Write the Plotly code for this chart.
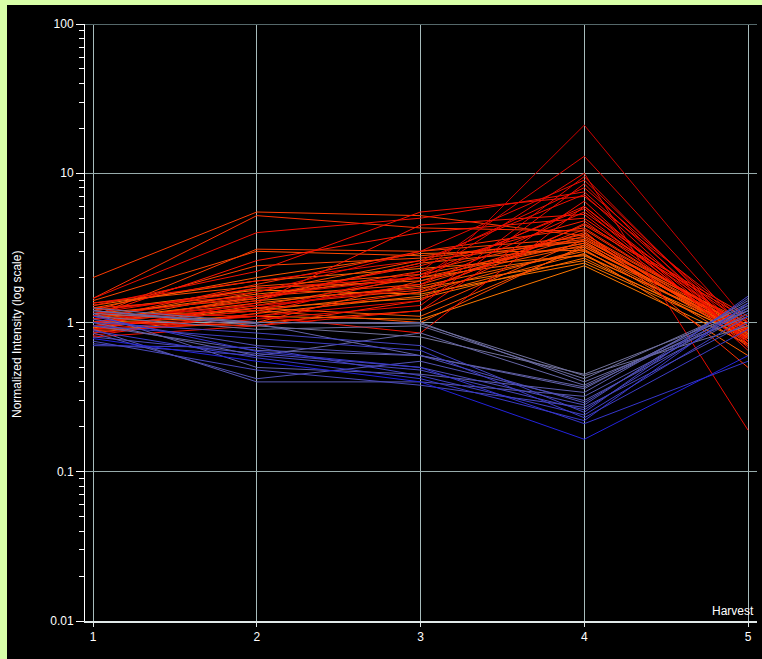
import plotly.graph_objects as go
import math

harvests = [1, 2, 3, 4, 5]
y_tick_vals = [0.01, 0.1, 1, 10, 100]
y_tick_text = ["0.01", "0.1", "1", "10", "100"]

# Up-regulated profiles (harvest 1..5)
up_series = [
    [1.05, 1.30, 1.70, 21.0, 1.00],
    [0.95, 1.20, 2.20, 13.0, 0.85],
    [1.10, 1.50, 2.00, 10.0, 0.19],
    [0.90, 1.10, 1.40, 9.5, 0.75],
    [1.20, 1.60, 3.00, 9.0, 0.80],
    [0.85, 1.05, 1.30, 8.5, 0.70],
    [1.00, 1.40, 2.50, 8.0, 0.90],
    [1.45, 4.00, 5.00, 7.5, 0.80],
    [1.30, 2.20, 5.50, 7.0, 1.00],
    [0.80, 0.95, 1.20, 6.5, 0.65],
    [1.15, 1.70, 2.00, 6.0, 0.85],
    [1.00, 1.25, 1.80, 5.5, 0.95],
    [0.90, 1.35, 4.50, 5.3, 0.75],
    [1.10, 2.60, 4.00, 5.0, 0.90],
    [1.25, 1.50, 2.40, 4.8, 0.78],
    [0.95, 1.10, 1.60, 4.5, 1.05],
    [1.05, 1.80, 3.00, 4.3, 0.88],
    [1.45, 5.20, 4.30, 4.1, 0.50],
    [0.88, 1.00, 1.90, 4.0, 0.72],
    [1.00, 1.45, 2.20, 3.9, 0.95],
    [1.15, 1.10, 0.85, 6.0, 0.75],
    [1.00, 0.95, 1.40, 4.6, 1.10],
    [1.05, 1.30, 1.65, 4.2, 0.88],
    [0.82, 1.15, 2.10, 5.8, 0.68],
    [1.35, 1.90, 2.60, 7.2, 0.72],
    [2.00, 5.50, 5.20, 3.8, 0.95],
    [1.10, 3.10, 3.00, 3.7, 0.85],
    [1.20, 2.40, 2.70, 3.6, 0.90],
    [1.00, 1.60, 2.60, 3.5, 0.80],
    [0.90, 1.30, 2.00, 3.4, 0.75],
    [1.05, 1.70, 1.90, 3.3, 0.88],
    [1.15, 1.45, 2.50, 3.2, 0.92],
    [0.95, 1.20, 1.60, 3.1, 0.70],
    [1.25, 2.00, 2.90, 3.05, 0.82],
    [1.00, 1.35, 1.75, 3.0, 0.95],
    [0.85, 1.15, 1.50, 2.9, 0.60],
    [1.10, 1.55, 2.00, 2.85, 0.86],
    [1.30, 1.90, 2.30, 2.8, 0.90],
    [0.92, 1.25, 1.45, 2.7, 0.78],
    [1.05, 1.40, 1.70, 2.6, 0.84],
    [1.20, 1.65, 1.55, 2.5, 0.80],
    [1.00, 1.10, 1.05, 2.4, 0.72],
    [0.90, 1.00, 1.20, 3.6, 0.95],
    [1.10, 1.20, 1.00, 3.3, 0.85],
    [1.35, 1.75, 2.10, 3.4, 1.00],
    [0.95, 1.50, 1.80, 3.8, 0.78],
    [1.40, 3.00, 2.80, 3.5, 0.82],
    [1.00, 1.25, 1.10, 3.2, 0.90],
]

# Down-regulated profiles (harvest 1..5)
down_series = [
    [1.20, 0.95, 0.80, 0.45, 1.20],
    [1.10, 0.90, 0.95, 0.42, 1.30],
    [1.25, 1.00, 1.00, 0.40, 1.10],
    [1.15, 1.00, 0.98, 0.44, 0.95],
    [1.00, 0.60, 0.85, 0.38, 1.25],
    [1.20, 0.98, 0.60, 0.37, 1.20],
    [0.95, 0.65, 0.60, 0.36, 1.35],
    [1.15, 0.50, 0.45, 0.34, 1.40],
    [0.90, 0.40, 0.40, 0.32, 1.20],
    [0.85, 0.42, 0.55, 0.30, 1.15],
    [1.05, 0.70, 0.60, 0.29, 1.30],
    [0.80, 0.62, 0.50, 0.28, 1.45],
    [0.75, 0.48, 0.38, 0.27, 1.00],
    [0.72, 0.60, 0.48, 0.26, 1.25],
    [1.00, 0.85, 0.70, 0.25, 1.50],
    [0.70, 0.68, 0.44, 0.24, 1.10],
    [0.95, 0.78, 0.65, 0.23, 0.90],
    [0.88, 0.58, 0.42, 0.22, 1.35],
    [1.10, 0.64, 0.50, 0.21, 0.55],
    [0.78, 0.55, 0.40, 0.165, 0.60],
]


def lerp(a, b, t):
    return tuple(int(round(a[i] + (b[i] - a[i]) * t)) for i in range(3))


def up_color(peak):
    t = (math.log10(peak) - math.log10(2.4)) / (math.log10(21) - math.log10(2.4))
    t = max(0.0, min(1.0, t))
    if t < 0.35:
        c = lerp((255, 120, 0), (255, 20, 0), t / 0.35)
    else:
        c = lerp((255, 20, 0), (205, 0, 0), (t - 0.35) / 0.65)
    return "rgb(%d,%d,%d)" % c


def down_color(low):
    t = (math.log10(low) - math.log10(0.165)) / (math.log10(0.45) - math.log10(0.165))
    t = max(0.0, min(1.0, t))
    c = lerp((35, 35, 220), (115, 115, 155), t)
    return "rgb(%d,%d,%d)" % c


fig = go.Figure()

for s in sorted(up_series, key=lambda r: r[3]):
    fig.add_trace(go.Scatter(x=harvests, y=s, mode="lines",
                             line=dict(color=up_color(s[3]), width=1),
                             hoverinfo="skip", showlegend=False))

for s in down_series:
    fig.add_trace(go.Scatter(x=harvests, y=s, mode="lines",
                             line=dict(color=down_color(s[3]), width=1),
                             hoverinfo="skip", showlegend=False))

W, H = 762, 659
L, R, T, B = 85, 5, 24, 38
pw, ph = W - L - R, H - T - B


def px_x(p):
    return (p - L) / pw


def px_y(p):
    return (H - B - p) / ph


green = "#d8ffa8"
shapes = [
    dict(type="rect", xref="paper", yref="paper", x0=px_x(-5), x1=px_x(7),
         y0=px_y(670), y1=px_y(-5), fillcolor=green, line=dict(width=0), layer="above"),
    dict(type="rect", xref="paper", yref="paper", x0=px_x(-5), x1=px_x(770),
         y0=px_y(5), y1=px_y(-5), fillcolor=green, line=dict(width=0), layer="above"),
    dict(type="line", xref="paper", yref="y", x0=0, x1=1, y0=100, y1=100,
         line=dict(color="#55686a", width=2), layer="above"),
]

fig.update_layout(
    width=W, height=H,
    margin=dict(l=L, r=R, t=T, b=B, pad=0),
    paper_bgcolor="black",
    plot_bgcolor="black",
    font=dict(family="Liberation Sans, Arial, sans-serif", color="white", size=12),
    shapes=shapes,
    annotations=[
        dict(text="Harvest", xref="paper", yref="paper", x=1, y=0,
             xanchor="right", yanchor="bottom", yshift=1, xshift=-1, showarrow=False,
             font=dict(size=12, color="white")),
        dict(text="Normalized Intensity (log scale)", xref="paper", yref="paper",
             x=px_x(17), y=px_y(335), textangle=-90, showarrow=False,
             xanchor="center", yanchor="middle",
             font=dict(size=12, color="white")),
    ],
)

fig.update_xaxes(
    range=[1 - 8 / 163.75, 5 + 9 / 163.75],
    tickvals=harvests, ticktext=[str(h) for h in harvests],
    showgrid=True, gridcolor="#a7bcbc", gridwidth=1,
    showline=True, linecolor="#e0e8e8", linewidth=2,
    ticks="outside", ticklen=4, tickcolor="#e0e8e8",
    zeroline=False, tickfont=dict(size=12, color="white"),
)

fig.update_yaxes(
    type="log", range=[-2, 2],
    tickvals=y_tick_vals, ticktext=y_tick_text,
    showgrid=True, gridcolor="#98acac", gridwidth=1,
    showline=True, linecolor="white", linewidth=1,
    ticks="outside", ticklen=8, tickcolor="white",
    minor=dict(ticks="outside", ticklen=5, tickcolor="white", showgrid=False,
               dtick="D1"),
    zeroline=False, tickfont=dict(size=12, color="white"),
)

fig.write_html(
    "out.html",
    config={"displayModeBar": False},
    post_script="document.body.style.margin='0';document.body.style.padding='0';"
                "document.body.style.background='%s';" % green,
)
